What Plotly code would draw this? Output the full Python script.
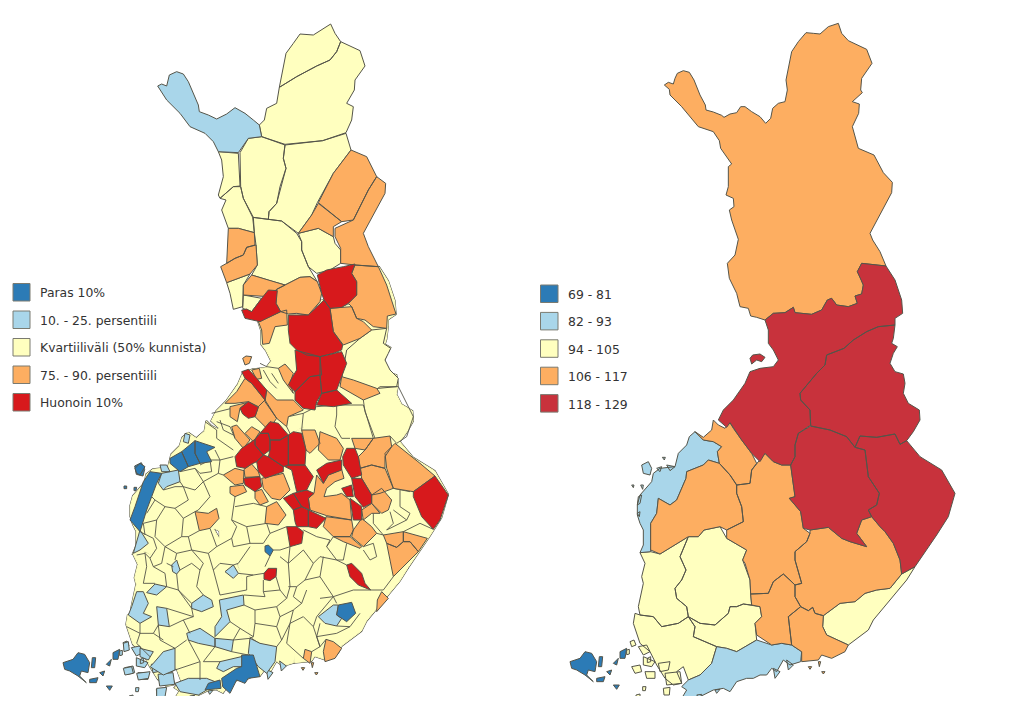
import plotly.graph_objects as go

# ---- colour classes ----
DARK = "#2c7bb6"; LIGHT = "#a9d6ea"; YELL = "#ffffbf"; ORAN = "#fdae61"; RED = "#d7191c"; RED2 = "#c8323c"
EDGE = "#55554a"

legend_left_labels = ["Paras 10%", "10. - 25. persentiili", "Kvartiiliväli (50% kunnista)", "75. - 90. persentiili", "Huonoin 10%"]
legend_right_labels = ["69 - 81", "82 - 93", "94 - 105", "106 - 117", "118 - 129"]
legend_left_colors = [DARK, LIGHT, YELL, ORAN, RED]
legend_right_colors = [DARK, LIGHT, YELL, ORAN, RED2]

# Picture frames the outlines were read in (origin of a 3x crop)
Z1 = (120, 10); Z2 = (120, 350); Z3 = (620, 10); Z4 = (560, 350)
def P(frame, pts):
    return [(frame[0] + a / 3, frame[1] + b / 3) for a, b in pts]

# ---- right map: regions ----
lappi = P(Z3, [(133,225),(145,217),(160,222),(165,205),(172,190),(190,182),(208,187),(222,210),(240,255),(256,285),(258,300),(280,306),(305,316),(312,322),(330,312),(350,308),(362,290),(375,290),(395,305),(420,320),(437,340),(452,325),(458,295),(475,280),(495,275),(502,240),(498,210),(515,125),(535,95),(558,68),(580,70),(600,72),(625,50),(655,40),(665,70),(685,92),(740,118),(756,160),(725,205),(722,240),(727,248),(697,275),(718,282),(716,310),(697,350),(715,415),(762,435),(790,488),(817,517),(815,548),(750,670),(758,690),(780,725),(798,768),(725,760),(712,785),(722,805),(730,825),(725,852),(705,858),(712,880),(685,890),(650,885),(635,865),(622,870),(605,900),(575,913),(525,908),(520,892),(495,908),(460,910),(435,930),(410,922),(392,918),(385,895),(360,890),(350,850),(328,805),(322,760),(345,735),(355,688),(335,630),(328,600),(342,590),(340,565),(318,555),(325,530),(325,470),(335,462),(310,425),(302,415),(298,392),(280,365),(235,350),(210,320),(185,290),(150,255),(148,238)])
pohjois_pohjanmaa = P(Z3, [(435,930),(460,910),(495,908),(520,892),(525,908),(575,913),(605,900),(622,870),(635,865),(650,885),(685,890),(712,880),(705,858),(725,852),(730,825),(722,805),(712,785),(725,760),(798,768),(825,810),(845,870),(848,910),(825,925),(825,945),(775,950),(740,965),(700,990),(672,1015)]) + P(Z4, [(800,15),(795,45),(770,70),(745,100),(720,130),(722,150),(750,180),(752,225),(715,250),(705,285),(705,320),(692,345),(665,345),(640,335),(615,310),(600,335),(575,310),(545,270),(520,235),(510,218),(500,232),(475,210),(490,180),(520,150),(555,100),(570,65),(600,55),(640,50),(655,30),(640,0),(625,-20),(625,-60)])
kainuu = P(Z3, [(825,945),(820,985),(815,1000),(832,1010)]) + P(Z4, [(1000,10),(990,40),(1005,65),(1030,72),(1035,100),(1030,130),(1045,160),(1078,180),(1080,210),(1060,245),(1040,272),(1020,283),(1005,252),(950,262),(900,258),(885,292),(860,260),(810,240),(752,228),(750,180),(722,150),(720,130),(745,100),(770,70),(795,45),(800,15)]) + P(Z3, [(672,1015),(700,990),(740,965),(775,950)])
keski_pohjanmaa = P(Z4, [(405,245),(430,262),(455,240),(460,210),(475,225),(495,235),(510,218),(520,235),(545,270),(575,310),(590,340),(575,360),(570,400),(530,405),(510,375),(478,340),(472,305),(485,290),(460,275),(430,270)])
pohjanmaa = P(Z4, [(405,245),(430,270),(460,275),(485,290),(472,305),(478,340),(445,330),(430,345),(380,365),(378,385),(350,450),(330,465),(295,445),(290,490),(272,520),(272,590),(272,605),(240,608),(250,585),(250,540),(240,520),(232,495),(232,465),(240,435),(275,395),(280,370),(300,355),(345,350),(355,310),(380,285),(388,260)])
etela_pohjanmaa = P(Z4, [(430,345),(445,330),(478,340),(510,375),(530,405),(530,430),(545,470),(550,515),(500,540),(480,530),(432,540),(415,560),(385,560),(345,585),(300,612),(272,600),(272,520),(290,490),(295,445),(330,465),(350,450),(378,385),(380,365)])
keski_suomi = P(Z4, [(530,405),(570,400),(575,360),(590,340),(615,310),(640,335),(665,345),(692,345),(700,400),(705,440),(688,445),(722,485),(730,535),(750,550),(740,575),(705,605),(705,630),(725,700),(705,705),(690,690),(670,672),(640,695),(625,730),(572,732),(570,690),(555,640),(548,630),(560,600),(500,565),(500,540),(550,515),(545,470),(530,430)])
pohjois_savo = P(Z4, [(752,228),(810,240),(860,260),(885,292),(915,300),(925,380),(958,430),(950,465),(925,480),(935,500),(905,510),(890,550),(920,590),(870,575),(845,565),(805,532),(750,540),(730,535),(722,485),(688,445),(705,440),(700,400),(692,345),(705,320),(705,285),(715,250)])
pohjois_karjala = P(Z4, [(885,292),(900,258),(950,262),(1005,252),(1020,283),(1040,272),(1080,320),(1145,360),(1185,430),(1165,500),(1130,555),(1065,650),(1025,672),(1020,630),(1000,580),(975,545),(960,530),(935,500),(925,480),(950,465),(958,430),(925,380),(915,300)])
etela_savo = P(Z4, [(750,540),(805,532),(845,565),(870,575),(920,590),(890,550),(905,510),(935,500),(960,530),(975,545),(1000,580),(1020,630),(1025,672),(990,715),(950,720),(915,730),(885,755),(840,760),(790,797),(765,790),(758,772),(745,782),(722,770),(705,740),(705,705),(725,700),(705,630),(705,605),(740,575),(750,550)])
paijat_hame = P(Z4, [(572,732),(625,730),(640,695),(670,672),(690,690),(705,705),(705,740),(722,770),(685,800),(695,885),(665,880),(635,885),(590,855),(585,820),(605,800),(600,770),(575,765)])
kymenlaakso = P(Z4, [(722,770),(745,782),(758,772),(765,790),(790,797),(788,830),(800,855),(865,885),(855,905),(815,925),(785,915),(775,930),(725,935),(725,905),(695,885),(685,800)])
etela_karjala = P(Z4, [(790,797),(840,760),(885,755),(915,730),(950,720),(990,715),(1025,672),(1065,650),(1040,690),(975,770),(940,810),(925,840),(865,885),(800,855),(788,830)])
kanta_hame = P(Z4, [(385,800),(420,820),(465,825),(505,790),(510,770),(530,770),(550,762),(575,765),(600,770),(605,800),(585,820),(590,870),(530,905),(500,895),(470,890),(400,860),(405,830)])
pirkanmaa = P(Z4, [(385,560),(415,560),(432,540),(480,530),(500,565),(560,600),(548,630),(570,690),(572,732),(575,765),(550,762),(530,770),(510,770),(505,790),(465,825),(420,820),(385,800),(380,770),(350,745),(345,715),(365,690),(378,660),(360,620)])
satakunta = P(Z4, [(240,608),(272,605),(300,612),(345,585),(385,560),(360,620),(378,660),(365,690),(345,715),(350,745),(380,770),(385,800),(355,820),(305,830),(280,800),(240,795),(235,770),(250,700),(245,680),(255,640)])
varsinais_suomi = P(Z4, [(225,790),(240,795),(280,800),(305,830),(355,820),(385,800),(405,830),(400,860),(470,890),(455,940),(420,975),(385,990),(370,950),(350,965),(365,1000),(340,1005),(315,985),(300,960),(290,945),(270,905),(240,880),(220,820)])
uusimaa = P(Z4, [(470,890),(500,895),(530,905),(590,870),(635,885),(665,880),(695,885),(725,905),(722,935),(690,945),(670,930),(650,965),(635,955),(620,975),(600,975),(580,985),(560,985),(530,995),(510,1025),(490,1015),(460,1020),(420,1040),(365,1045),(380,1020),(365,1010),(385,990),(420,975),(455,940)])
ahvenanmaa = P(Z4, [(30,935),(60,925),(75,905),(95,910),(110,935),(105,965),(85,960),(80,975),(100,995),(75,975),(50,960),(35,955)])
hailuoto = P(Z4, [(570,25),(578,15),(600,12),(615,22),(605,35),(590,30),(575,42)])

saaret_lounas = [P(Z4, s) for s in [[(210,875),(222,870),(228,885),(215,890)],[(235,890),(260,885),(270,905),(250,915)],[(215,950),(240,945),(245,965),(225,970)],[(250,920),(285,935),(275,950),(250,945)],[(255,965),(285,965),(285,985),(260,985)],[(295,940),(330,935),(325,960),(300,965)],[(315,970),(360,965),(365,1000),(320,1005)],[(310,1015),(330,1012),(328,1035),(312,1035)],[(228,1035),(240,1032),(240,1042),(228,1042)],[(248,1010),(258,1010),(256,1022),(248,1022)],[(200,900),(208,898),(208,912),(200,914)],[(262,925),(272,920),(272,935),(262,938)]]]
saaret_pohjanmaa = [P(Z4, s) for s in [[(245,345),(265,335),(275,355),(270,375),(250,370)],[(320,345),(345,350),(330,362)],[(290,355),(305,350),(300,365)],[(215,405),(222,405),(220,413)],[(242,405),(250,405),(248,418)],[(235,440),(245,435),(240,460),(232,465)],[(232,490),(240,485),(238,500)],[(307,322),(316,322),(313,330)]]]
saaret_uusimaa = [P(Z4, s) for s in [[(640,955),(660,965),(645,985)],[(680,930),(700,945),(685,960)],[(465,1020),(480,1018),(470,1030)],[(410,1035),(425,1033),(420,1045)]]]
saaret_kymi = [P(Z4, s) for s in [[(745,950),(755,950),(750,958)],[(785,965),(795,965),(790,972)],[(775,935),(782,935),(778,950)]]]
saaret_ahvenanmaa = [P(Z4, s) for s in [[(110,985),(135,980),(130,995),(110,995)],[(140,965),(155,960),(150,975)],[(160,940),(175,925),(170,945)],[(180,905),(200,895),(195,925),(180,925)],[(118,920),(128,920),(125,950),(115,950)],[(160,1005),(178,1005),(170,1018)]]]

right_classes = [
    (YELL, [kanta_hame, pirkanmaa, satakunta, varsinais_suomi, etela_karjala] + saaret_lounas),
    (LIGHT, [pohjanmaa, uusimaa] + saaret_pohjanmaa + saaret_uusimaa),
    (ORAN, [lappi, keski_pohjanmaa, etela_pohjanmaa, keski_suomi, etela_savo, paijat_hame, kymenlaakso] + saaret_kymi),
    (RED2, [pohjois_pohjanmaa, kainuu, pohjois_savo, pohjois_karjala, hailuoto]),
    (DARK, [ahvenanmaa] + saaret_ahvenanmaa),
]

# ---- left map: municipalities, north (frame Z1) ----
left_yellow_z1 = [
 [(478,232),(498,130),(520,100),(540,72),(580,75),(632,42),(645,70),(662,95),(650,125),(630,150),(590,168),(530,200)],
 [(478,232),(530,200),(590,168),(630,150),(650,125),(662,95),(720,122),(735,168),(705,210),(703,240),(680,280),(700,290),(695,330),(678,368),(608,392),(495,403),(425,380),(418,345),(433,330),(440,295),(470,280)],
 [(360,428),(385,385),(425,380),(495,405),(490,445),(498,475),(480,530),(470,580),(447,605),(445,628),(398,622),(370,565),(362,530)],
 [(495,405),(608,392),(678,370),(693,420),(640,490),(592,578),(575,615),(535,670),(485,633),(445,628),(447,605),(470,580),(498,475),(490,445)],
 [(295,425),(355,430),(360,528),(340,530),(300,565),(295,555),(310,500),(305,450)],
 [(300,565),(340,530),(362,530),(370,565),(400,622),(403,668),(355,655),(325,655),(305,600),(318,570)],
 [(535,670),(595,655),(640,680),(645,700),(662,720),(662,760),(630,780),(590,790),(565,770),(545,720),(545,695)],
 [(398,622),(445,628),(485,633),(530,670),(545,695),(545,720),(565,770),(592,815),(570,800),(540,802),(495,825),(450,812),(395,795),(412,765),(408,705),(403,668)],
 [(320,818),(390,792),(370,825),(370,855),(368,890),(340,898),(330,850)],
 [(370,855),(425,865),(395,905),(368,895)],
]
left_blue_z1 = [[(113,228),(125,222),(140,228),(148,195),(170,185),(190,192),(205,215),(235,285),(238,305),(265,315),(290,327),(320,312),(345,293),(375,310),(400,330),(418,345),(425,380),(385,385),(355,428),(295,425),(280,395),(255,370),(210,350),(180,310),(140,270)]]
left_orange_z1 = [
 [(693,420),(740,440),(770,500),(745,540),(700,630),(665,635),(595,578),(640,490)],
 [(770,500),(797,520),(795,550),(730,670),(745,710),(775,770),(705,765),(662,760),(662,715),(645,680),(645,655),(700,630),(745,540)],
 [(595,580),(665,635),(640,650),(640,680),(595,655),(535,670),(575,615)],
 [(325,655),(355,655),(403,668),(405,705),(380,712),(370,735),(345,745),(320,760)],
 [(320,760),(345,745),(370,735),(380,712),(408,705),(412,765),(390,792),(320,818),(302,770)],
 [(395,795),(450,812),(495,825),(470,838),(445,860),(370,855),(370,825)],
 [(470,838),(495,825),(540,802),(570,800),(592,815),(605,850),(600,875),(565,915),(530,910),(505,912),(482,905),(468,880)],
 [(705,765),(775,770),(800,825),(828,912),(802,918),(800,955),(760,950),(735,930),(710,925),(695,890),(685,880),(710,855),(710,815),(695,790)],
 [(630,895),(665,892),(695,890),(710,925),(730,935),(755,960),(720,985),(670,1005),(640,965)],
 [(482,905),(500,900),(502,945),(465,950),(448,1000),(428,1003),(425,960),(415,935)],
]
left_red_z1 = [
 [(425,865),(445,840),(472,842),(468,880),(482,905),(420,935),(375,925),(365,900),(380,897),(395,905)],
 [(592,795),(620,780),(670,770),(705,762),(695,790),(710,815),(710,855),(685,880),(665,892),(630,895),(612,870),(605,850)],
 [(505,915),(565,915),(612,870),(630,895),(640,965),(668,1005),(665,1020),(640,1030),(600,1040),(560,1035),(530,1020),(510,1000),(505,960)],
]

# ---- left map: municipalities, south (frame Z2) ----
left_yellow_z2 = [
 [(680,0),(720,-35),(755,-60),(800,-65),(790,-20),(812,-5),(805,10),(795,30),(810,60),(835,85),(830,110),(775,115),(730,135),(700,95),(665,85)],
]
left_orange_z2 = [
 [(368,25),(378,18),(395,20),(388,40),(375,45)],
 [(395,60),(418,55),(425,85),(410,88)],
 [(375,85),(395,100),(435,150),(415,170),(385,155),(345,160),(315,160),(350,125)],
 [(330,170),(380,158),(360,175),(352,215),(330,200)],
 [(440,120),(470,150),(520,150),(550,180),(505,200),(500,230),(470,205),(435,155)],
 [(475,55),(495,42),(520,70),(510,100),(520,130),(490,90)],
 [(435,150),(470,205),(445,240),(405,200),(415,170)],
 [(335,230),(350,225),(390,270),(370,295),(345,265)],
 [(395,230),(420,245),(400,275),(375,250)],
 [(395,342),(415,365),(420,380),(375,382),(372,358)],
 [(310,375),(345,355),(372,362),(370,400),(345,405)],
 [(330,410),(370,405),(380,425),(345,440),(330,430)],
 [(425,385),(490,370),(510,420),(480,450),(455,445),(430,415)],
 [(405,425),(425,418),(445,455),(420,465),(405,445)],
 [(440,470),(470,455),(498,495),(475,525),(435,520)],
 [(225,485),(265,490),(290,475),(297,505),(270,535),(238,542)],
 [(545,240),(585,240),(600,280),(570,310),(558,300)],
 [(600,245),(650,265),(670,295),(660,330),(625,330),(595,300)],
 [(695,265),(760,265),(735,300),(705,295)],
 [(760,265),(810,258),(815,290),(795,320),(795,355),(755,345),(720,355),(715,320),(735,300)],
 [(720,355),(755,345),(795,355),(820,415),(780,430),(755,435),(725,385)],
 [(795,310),(825,280),(900,340),(945,378),(880,425),(820,415),(800,355)],
 [(590,375),(610,400),(625,375),(665,358),(672,385),(645,395),(620,415),(612,440),(650,435),(665,430),(690,450),(695,510),(620,497),(570,480),(565,445),(582,430)],
 [(725,480),(755,460),(780,490),(755,490),(730,510)],
 [(755,435),(785,415),(815,450),(805,480),(785,490),(755,460)],
 [(618,500),(695,510),(700,540),(690,560),(640,560),(610,530)],
 [(725,505),(755,530),(770,550),(730,590),(695,560),(700,540)],
 [(640,560),(690,560),(725,590),(720,595),(670,575)],
 [(790,555),(850,545),(850,575),(830,592),(800,580)],
 [(850,545),(922,565),(895,605),(870,575),(850,575)],
 [(800,580),(830,592),(850,575),(870,575),(895,605),(820,680)],
 [(785,725),(805,745),(770,785),(772,750)],
 [(618,868),(640,875),(665,895),(645,925),(615,935),(610,905)],
 [(555,898),(575,905),(570,940),(550,925)],
 [(665,80),(700,90),(770,115),(780,130),(730,150),(660,110)],
]
left_red_z2 = [
 [(365,65),(385,58),(410,85),(440,120),(435,150),(395,100),(375,85)],
 [(360,175),(385,155),(415,172),(405,200),(385,205),(368,192)],
 [(600,20),(665,5),(680,40),(665,80),(650,120),(605,130),(600,75)],
 [(525,0),(600,20),(605,75),(570,80),(525,125),(505,105),(515,85),(530,60)],
 [(570,80),(600,75),(605,130),(590,155),(585,180),(550,175),(525,150),(525,125)],
 [(605,130),(650,120),(695,160),(640,170),(590,165)],
 [(450,215),(475,220),(505,255),(480,270),(450,270),(445,250),(420,250)],
 [(420,250),(445,250),(450,270),(450,300),(430,315),(405,285),(405,268)],
 [(450,270),(480,270),(505,255),(505,345),(490,350),(445,320),(450,300)],
 [(405,268),(405,285),(430,315),(410,335),(395,342),(375,355),(350,350),(345,320),(365,295)],
 [(410,335),(430,315),(445,320),(490,350),(490,365),(435,385),(415,365)],
 [(505,255),(520,245),(545,250),(558,300),(555,345),(505,345)],
 [(505,345),(555,345),(580,380),(560,420),(530,425),(515,360),(495,350)],
 [(370,385),(420,380),(425,410),(405,425),(375,405)],
 [(490,445),(520,430),(545,470),(520,480)],
 [(520,430),(560,420),(582,430),(565,445),(570,480),(545,470)],
 [(520,480),(545,470),(565,480),(565,530),(530,530),(525,515)],
 [(565,480),(618,505),(590,535),(565,530)],
 [(500,530),(530,530),(550,545),(545,580),(510,590)],
 [(590,360),(620,340),(665,330),(665,360),(625,375),(610,400)],
 [(668,320),(680,295),(705,295),(715,320),(725,375),(695,385),(670,345)],
 [(880,425),(945,378),(985,435),(960,510),(940,538),(905,500),(880,440)],
 [(665,415),(695,405),(700,440),(680,440)],
 [(695,385),(725,385),(755,435),(755,460),(730,472),(705,440)],
 [(690,445),(725,470),(725,510),(700,510)],
 [(680,645),(695,640),(725,670),(735,700),(752,720),(715,705),(690,680)],
 [(432,670),(445,655),(470,655),(468,680),(450,692),(432,688)],
]
left_dark_z2 = [
 [(655,765),(695,757),(707,790),(680,815),(650,795)],
 [(435,588),(445,585),(460,600),(450,618),(435,605)],
 [(150,325),(185,305),(205,350),(180,365),(150,340)],
 [(185,305),(225,272),(225,310),(240,340),(205,350)],
 [(225,272),(285,292),(260,305),(275,335),(240,340),(225,310)],
 [(30,510),(45,470),(70,395),(90,365),(125,370),(110,400),(95,440),(80,480),(60,545)],
 [(45,355),(60,340),(75,350),(60,375),(50,370)],
 [(365,915),(400,915),(420,980),(385,985),(375,1000),(350,990),(330,1030),(308,1010),(305,985),(350,955),(365,950)],
 [(265,1000),(300,990),(303,1015),(255,1020)],
 [(12,408),(20,408),(20,416),(12,416)],
 [(42,412),(50,412),(48,422),(42,422)],
]
left_light_z2 = [
 [(595,800),(640,765),(655,765),(650,795),(665,805),(650,828),(615,820)],
 [(315,665),(340,645),(355,670),(340,685)],
 [(155,645),(170,630),(180,660),(170,672),(158,665)],
 [(80,728),(105,702),(140,710),(110,735)],
 [(40,610),(60,540),(85,580),(60,600)],
 [(50,725),(70,725),(85,760),(70,790),(95,800),(60,820),(25,795),(35,770)],
 [(110,770),(140,775),(148,830),(115,825)],
 [(215,760),(250,735),(275,750),(280,770),(245,785),(215,775)],
 [(298,750),(370,735),(372,765),(320,780),(330,815),(285,860),(285,830),(305,800)],
 [(285,865),(340,870),(335,905),(285,890)],
 [(200,850),(240,835),(285,865),(285,890),(235,880),(205,870)],
 [(390,865),(420,880),(470,890),(465,935),(440,970),(415,950),(385,910)],
 [(165,1000),(205,985),(260,985),(285,995),(260,1020),(235,1035),(180,1025)],
 [(300,935),(385,915),(385,950),(340,950),(310,965),(290,955)],
 [(100,940),(130,905),(165,895),(165,960),(130,975),(90,950)],
 [(125,370),(175,360),(180,395),(140,410),(130,420),(115,400)],
 [(120,345),(140,345),(150,365),(125,365)],
 [(195,250),(210,255),(205,280),(190,275)],
 [(10,880),(25,875),(28,900),(12,905)],
 [(60,895),(100,905),(85,930),(60,920)],
 [(10,955),(35,950),(40,970),(15,975)],
 [(50,970),(90,965),(85,985),(55,990)],
 [(110,1015),(140,1012),(135,1040),(110,1040)],
]
# municipal borders between yellow municipalities (frame Z2)
left_borders_z2 = [
 [(275,190),(335,175)],[(290,215),(330,230),(345,265)],[(255,215),(290,240),(290,265),(340,300)],[(300,210),(310,240),(340,255)],
 [(285,300),(300,330),(340,320)],[(270,330),(300,330),(295,370),(310,375)],[(240,345),(270,330),(275,365),(240,370),(225,355)],
 [(180,365),(225,355),(250,395),(225,420),(190,410),(180,395)],[(295,370),(250,395),(270,440),(235,480),(225,485)],
 [(130,420),(165,410),(190,410),(205,450),(165,475),(135,470),(105,450),(95,440)],[(80,490),(105,450)],[(135,470),(110,510),(70,520)],
 [(165,475),(190,505),(185,560),(135,590),(105,560),(110,510)],[(190,505),(225,485)],[(238,542),(205,560),(185,560)],[(70,520),(75,555)],
 [(60,545),(100,565),(110,595),(90,625),(75,610),(50,615)],[(135,590),(125,640),(100,650),(90,625)],[(205,560),(215,600),(170,610),(135,590)],
 [(170,610),(165,630)],[(180,660),(215,640),(240,660),(250,640),(215,600)],[(75,610),(80,650),(70,700),(90,700),(105,700)],
 [(100,650),(135,670),(140,710)],[(140,640),(160,650)],[(270,535),(290,590),(265,610),(215,600)],
 [(290,590),(335,565),(350,530),(335,510),(345,440)],[(345,470),(400,460),(420,465),(440,470)],[(335,510),(380,530),(440,520)],
 [(380,530),(390,580),(340,590),(335,565)],[(440,520),(450,550),(430,580),(390,580)],[(265,610),(280,660),(300,640),(340,645),(355,640),(390,590)],
 [(355,670),(400,675),(432,670)],[(400,675),(380,680),(380,720),(300,735),(280,660)],[(240,660),(230,710),(250,735)],[(170,672),(175,720),(215,760)],
 [(140,710),(175,720)],[(175,720),(215,775),(220,800),(140,775)],[(450,550),(500,530)],[(460,600),(480,600),(510,590)],[(450,618),(435,650)],
 [(468,680),(480,720),(430,725),(430,690)],[(430,725),(435,740),(372,735)],[(372,765),(405,780),(405,820)],[(480,720),(500,745),(510,710),(505,640),(480,620)],
 [(510,590),(505,640),(550,600),(580,640),(555,690)],[(550,540),(590,560),(630,570),(620,590),(650,630),(600,620),(580,640)],[(640,560),(620,590)],
 [(680,580),(670,630),(650,630),(680,645)],[(730,590),(760,580),(770,620),(750,630),(730,600)],[(770,550),(790,555)],[(820,680),(790,720),(752,720)],
 [(555,690),(530,710),(505,710)],[(555,690),(600,680),(640,740),(650,760)],[(600,680),(610,620)],[(640,740),(700,720),(752,720)],
 [(530,710),(520,740),(545,760),(560,720)],[(545,760),(520,780)],[(600,745),(640,740),(590,800)],[(500,745),(470,770),(405,780)],
 [(470,770),(480,800),(470,830),(405,820)],[(520,780),(480,800)],[(520,780),(510,820),(550,800),(580,830),(590,800)],[(470,830),(485,870),(510,820)],
 [(405,820),(400,860),(360,835),(330,815)],[(360,835),(340,870)],[(400,860),(390,865)],[(600,820),(590,860),(600,890),(618,868)],
 [(580,830),(600,890),(575,905)],[(510,820),(500,880),(550,925)],[(485,870),(470,890)],[(650,828),(690,830),(720,790)],[(590,860),(650,850),(690,830)],
 [(148,830),(190,810),(220,800)],[(190,810),(210,850)],[(115,825),(120,870),(165,895)],[(60,820),(60,850),(100,850),(115,825)],[(100,850),(130,870)],
 [(20,830),(60,850),(50,880),(90,920)],[(165,895),(200,870)],[(205,870),(240,935),(240,990)],[(165,960),(240,935)],[(285,890),(250,935),(300,935)],
 [(335,905),(385,915)],[(340,870),(390,865)],
 [(730,150),(780,110),(835,110),(880,200),(860,260),(830,280),(810,258)],[(730,150),(735,185),(765,265)],[(650,165),(730,165),(760,265)],
 [(650,165),(650,195),(645,230),(665,265),(690,265)],[(550,190),(590,170),(650,165)],[(550,190),(545,240)],[(505,200),(550,190)],[(500,230),(515,260)],
 [(820,415),(870,425)],[(840,420),(840,470),(870,490),(860,510),(820,480)],[(810,485),(820,520),(800,540),(860,510)],[(850,545),(900,520),(940,538)],
 [(430,60),(450,95),(470,115)],[(420,40),(440,50),(475,55)],[(455,70),(475,100)],[(760,490),(760,520),(790,555)],
]

def to_xy(polys):
    xs, ys = [], []
    for p in polys:
        xs += [q[0] for q in p] + [p[0][0], None]
        ys += [q[1] for q in p] + [p[0][1], None]
    return xs, ys

fig = go.Figure()
def add_fill(polys, color, edge=EDGE, width=1.0):
    x, y = to_xy(polys)
    fig.add_trace(go.Scatter(x=x, y=y, mode="lines", fill="toself", fillcolor=color,
                             line=dict(color=edge, width=width), hoverinfo="skip", showlegend=False))

# right map
for color, polys in right_classes:
    add_fill(polys, color)

# left map: country base is the right map's regions moved over
DX, DY = -507, 1
base_regions = [pohjois_pohjanmaa, kainuu, keski_pohjanmaa, pohjanmaa, etela_pohjanmaa, keski_suomi, pohjois_savo, pohjois_karjala,
                etela_savo, paijat_hame, kymenlaakso, etela_karjala, kanta_hame, pirkanmaa, satakunta, varsinais_suomi, uusimaa]
moved = [[(a + DX, b + DY) for a, b in r] for r in base_regions]
add_fill(moved, YELL, EDGE, 2.0)
add_fill(moved, YELL, YELL, 1.0)

mv = lambda ss: [[(a + DX, b + DY) for a, b in s] for s in ss]
add_fill(mv(saaret_lounas) + mv(saaret_uusimaa), LIGHT)
add_fill(mv([ahvenanmaa] + saaret_ahvenanmaa) + mv(saaret_pohjanmaa[:1]), DARK)
add_fill(mv(saaret_kymi), ORAN)

add_fill([P(Z1, s) for s in left_yellow_z1] + [P(Z2, s) for s in left_yellow_z2], YELL)
add_fill([P(Z2, s) for s in left_light_z2] + [P(Z1, s) for s in left_blue_z1], LIGHT)
bx, by = [], []
for s in left_borders_z2:
    q = P(Z2, s)
    bx += [a for a, _ in q] + [None]
    by += [b for _, b in q] + [None]
fig.add_trace(go.Scatter(x=bx, y=by, mode="lines", line=dict(color=EDGE, width=0.9), hoverinfo="skip", showlegend=False))
add_fill([P(Z1, s) for s in left_orange_z1] + [P(Z2, s) for s in left_orange_z2], ORAN)
add_fill([P(Z1, s) for s in left_red_z1] + [P(Z2, s) for s in left_red_z2], RED)
add_fill([P(Z2, s) for s in left_dark_z2], DARK)

# legends
shapes, annos = [], []
for i, (lab, col) in enumerate(zip(legend_left_labels, legend_left_colors)):
    y = 283.5 + 27.5 * i
    shapes.append(dict(type="rect", xref="x", yref="y", x0=13, x1=30, y0=y, y1=y + 17.5, fillcolor=col, line=dict(color="#7a7a70", width=1)))
    annos.append(dict(x=37.5, y=y + 9, xref="x", yref="y", text=lab, showarrow=False, xanchor="left", yanchor="middle",
                      font=dict(family="DejaVu Sans", size=12.4, color="#333333")))
for i, (lab, col) in enumerate(zip(legend_right_labels, legend_right_colors)):
    y = 285 + 27.4 * i
    shapes.append(dict(type="rect", xref="x", yref="y", x0=540.5, x1=558, y0=y, y1=y + 17.5, fillcolor=col, line=dict(color="#7a7a70", width=1)))
    annos.append(dict(x=565.5, y=y + 9.5, xref="x", yref="y", text=lab, showarrow=False, xanchor="left", yanchor="middle",
                      font=dict(family="DejaVu Sans", size=12.4, color="#333333")))

fig.update_layout(width=1008, height=688, margin=dict(l=0, r=0, t=0, b=0), plot_bgcolor="white", paper_bgcolor="white",
                  shapes=shapes, annotations=annos, showlegend=False,
                  xaxis=dict(range=[8, 1016], visible=False, fixedrange=True),
                  yaxis=dict(range=[696, 8], visible=False, fixedrange=True))
fig.write_html("out.html")
